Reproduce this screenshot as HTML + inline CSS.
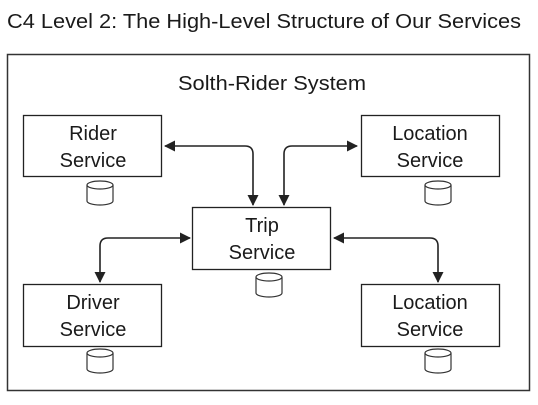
<!DOCTYPE html>
<html><head><style>
body{margin:0;background:#fff;width:538px;height:400px;overflow:hidden}
svg text{font-family:"Liberation Sans",sans-serif;fill:#1a1a1a}
</style></head><body>
<svg width="538" height="400" viewBox="0 0 538 400">
<defs><marker id="a" markerWidth="11" markerHeight="11" refX="10" refY="5.5" orient="auto-start-reverse" markerUnits="userSpaceOnUse"><path d="M0,0 L11,5.5 L0,11 z" fill="#222"/></marker>
<g id="cyl"><path d="M-13,-8 V8 A13,4 0 0 0 13,8 V-8" fill="#fff" stroke="#333" stroke-width="1.2"/><ellipse cx="0" cy="-8" rx="13" ry="4" fill="#fff" stroke="#333" stroke-width="1.2"/></g></defs>
<text x="7" y="28" font-size="20" textLength="514" lengthAdjust="spacingAndGlyphs">C4 Level 2: The High-Level Structure of Our Services</text>
<rect x="7.5" y="54.5" width="522" height="336" fill="none" stroke="#333" stroke-width="1.5"/>
<text x="272" y="90" font-size="20" text-anchor="middle" textLength="188" lengthAdjust="spacingAndGlyphs">Solth-Rider System</text>
<g fill="#fff" stroke="#222" stroke-width="1.3">
<rect x="23.5" y="115.5" width="138" height="61"/>
<rect x="361.5" y="115.5" width="138" height="61"/>
<rect x="192.5" y="207.5" width="138" height="62"/>
<rect x="23.5" y="284.5" width="138" height="62"/>
<rect x="361.5" y="284.5" width="138" height="62"/>
</g>
<g font-size="20" text-anchor="middle">
<text x="93" y="140">Rider</text><text x="93" y="167">Service</text>
<text x="430" y="140">Location</text><text x="430" y="167">Service</text>
<text x="262" y="232">Trip</text><text x="262" y="259">Service</text>
<text x="93" y="309">Driver</text><text x="93" y="336">Service</text>
<text x="430" y="309">Location</text><text x="430" y="336">Service</text>
</g>
<use href="#cyl" x="100" y="193"/><use href="#cyl" x="438" y="193"/>
<use href="#cyl" x="269" y="285"/><use href="#cyl" x="100" y="361"/><use href="#cyl" x="438" y="361"/>
<g fill="none" stroke="#222" stroke-width="1.6" marker-start="url(#a)" marker-end="url(#a)">
<path d="M165,146 H245 Q253,146 253,154 V205"/>
<path d="M357,146 H292 Q284,146 284,154 V205"/>
<path d="M334,238 H430 Q438,238 438,246 V282"/>
<path d="M190,238 H108 Q100,238 100,246 V282"/>
</g>
</svg>
</body></html>
